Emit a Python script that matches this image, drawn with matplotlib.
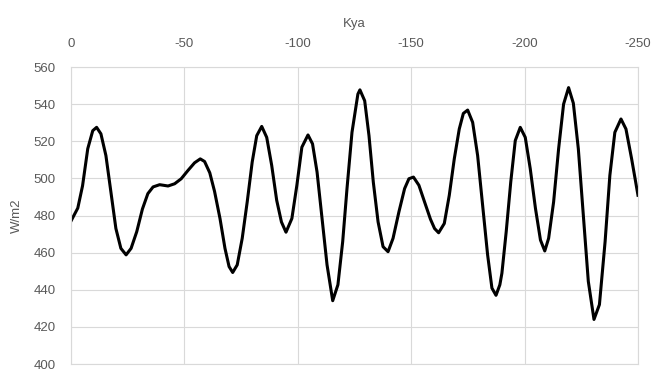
import matplotlib
matplotlib.use("Agg")
import matplotlib.pyplot as plt

# insolation curve
kya = [0, -3, -5.1, -7.4, -9.6, -11.3, -13.2, -15.4, -17.6, -19.8,
       -22.0, -24.3, -26.5, -29.0, -31.5, -33.9, -36.2, -39.1, -42.8, -45.7,
       -48.6, -51.6, -54.5, -57.0, -58.9, -61.2, -63.3, -65.7, -67.9, -69.7,
       -71.3, -73.3, -75.5, -77.7, -79.9, -81.9, -84.1, -86.3, -88.5, -90.7,
       -92.8, -94.8, -97.4, -99.6, -101.8, -104.5, -106.5, -108.5, -110.7, -112.9,
       -115.4, -117.7, -119.8, -121.7, -123.9, -126.5, -127.4, -129.5, -131.4, -133.3,
       -135.4, -137.6, -139.8, -142.0, -144.6, -147.1, -149.0, -151.0, -153.4, -155.9,
       -158.5, -160.3, -162.1, -164.6, -166.8, -169.0, -171.2, -173.0, -174.9, -177.1,
       -179.3, -181.5, -183.7, -185.6, -187.4, -189.1, -190.0, -191.9, -193.9, -195.9,
       -198.1, -200.3, -202.5, -204.8, -207.0, -208.9, -210.6, -212.8, -215.0, -217.2,
       -219.4, -221.5, -223.7, -225.9, -228.1, -230.6, -233.0, -235.5, -237.6, -239.8,
       -242.5, -244.7, -247.2, -250]
wm2 = [477, 484, 496, 516, 525.7, 527.5, 524, 512.3, 492.7, 473,
       462.3, 458.8, 462.3, 471.3, 483.5, 491.8, 495.4, 496.6, 495.9, 497.1,
       499.8, 504.3, 508.4, 510.5, 509.1, 503, 493, 478.4, 462.3, 452.5,
       449.3, 453.4, 467.7, 487.3, 508.8, 523, 528, 522.1, 507, 488.2,
       476.5, 471, 478.4, 496.3, 516.8, 523.4, 518.6, 503.4, 478.4, 453.4,
       434.1, 442.7, 465.9, 494.5, 524.8, 545.4, 547.7, 541.8, 523, 498,
       476.6, 463.2, 460.5, 467.7, 482, 494.5, 499.8, 500.7, 496.3, 487.3,
       478, 473, 470.7, 475.7, 490.9, 510.5, 526.6, 535, 536.8, 530.2,
       512.3, 485.5, 458.8, 440.9, 437, 442.7, 448.9, 471.3, 498, 520.4,
       527.5, 522.1, 505.2, 483.8, 466.8, 460.9, 467.7, 487.3, 515.9, 540,
       548.9, 540.5, 515.9, 480.2, 444.5, 424, 432, 465.9, 501.6, 524.8,
       532, 526.6, 510.5, 490.9]

x_ticks = [0, -50, -100, -150, -200, -250]
x_labels = ["0", "-50", "-100", "-150", "-200", "-250"]
y_ticks = [400, 420, 440, 460, 480, 500, 520, 540, 560]

plt.rcParams['font.family'] = ['Liberation Sans', 'DejaVu Sans']
grey = "#595959"
gridc = "#d9d9d9"

fig = plt.figure(figsize=(6.53, 3.70), dpi=100)
ax = fig.add_axes([0.1087, 0.0162, 0.8683, 0.8027])

ax.plot(kya, wm2, color="black", linewidth=2.2, solid_joinstyle="round")

ax.set_xlim(0, -250)
ax.set_ylim(400, 560)
ax.xaxis.tick_top()
ax.xaxis.set_label_position("top")
ax.set_xticks(x_ticks)
ax.set_xticklabels(x_labels)
ax.set_yticks(y_ticks)
ax.tick_params(axis="both", length=0, labelsize=9.5, colors=grey)
ax.tick_params(axis="x", pad=12)
ax.tick_params(axis="y", pad=11)

ax.grid(True, color=gridc, linewidth=0.8)
ax.set_axisbelow(True)
for s in ax.spines.values():
    s.set_color(gridc)
    s.set_linewidth(0.8)

ax.set_xlabel("Kya", fontsize=9.5, color=grey, labelpad=8)
ax.set_ylabel("W/m2", fontsize=9.5, color=grey, labelpad=8)

fig.savefig("out.png", dpi=100)
